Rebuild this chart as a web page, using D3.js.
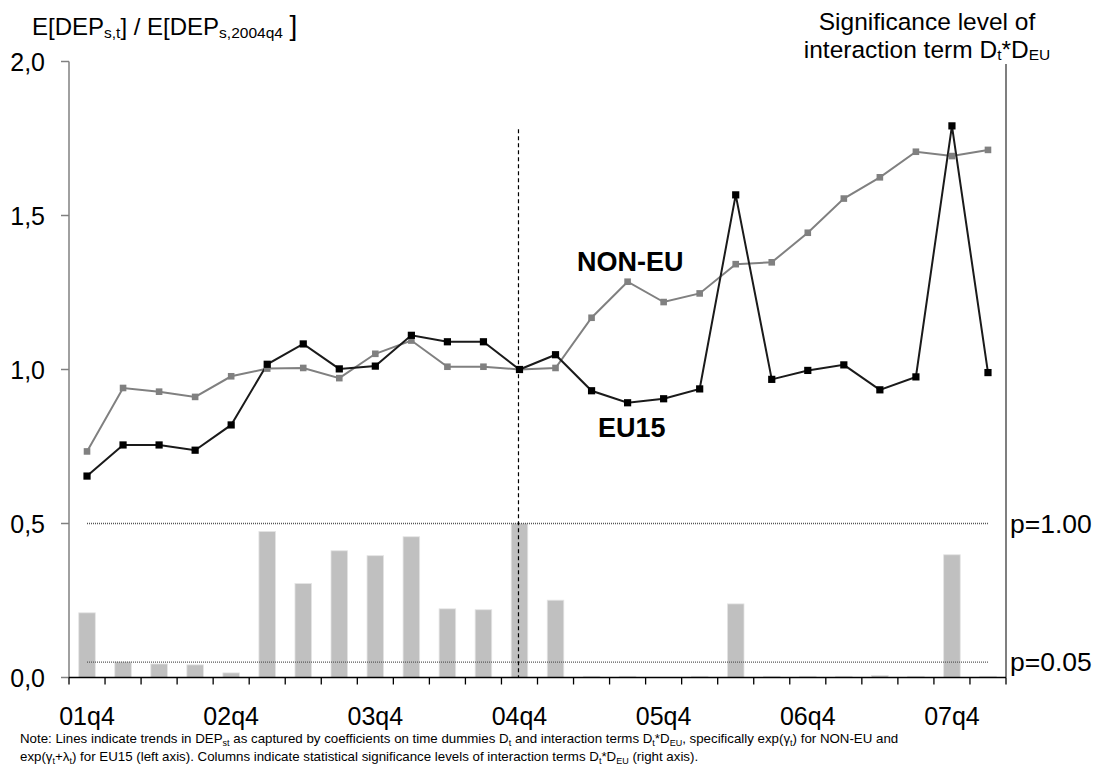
<!DOCTYPE html>
<html><head><meta charset="utf-8">
<script src="https://cdn.jsdelivr.net/npm/d3@7"></script>
<style>body{margin:0;background:#fff} svg{display:block} text{font-family:"Liberation Sans",Arial,sans-serif;fill:#000}</style>
</head><body><svg id="c" width="1096" height="782"></svg>
<script>
const categories = ["01q4","02q1","02q2","02q3","02q4","03q1","03q2","03q3","03q4","04q1","04q2","04q3","04q4","05q1","05q2","05q3","05q4","06q1","06q2","06q3","06q4","07q1","07q2","07q3","07q4","08q1"];
const tickLabels = ["01q4","02q4","03q4","04q4","05q4","06q4","07q4"];
const eu15 = [0.654,0.755,0.755,0.738,0.820,1.017,1.083,1.002,1.011,1.111,1.090,1.090,1.000,1.048,0.931,0.892,0.905,0.937,1.567,0.968,0.997,1.015,0.934,0.976,1.791,0.990];
const nonEu = [0.734,0.940,0.928,0.911,0.978,1.003,1.005,0.972,1.051,1.094,1.009,1.009,1.000,1.005,1.168,1.285,1.219,1.247,1.342,1.348,1.444,1.555,1.624,1.707,1.693,1.713];
const significance = [0.420,0.101,0.088,0.082,0.030,0.948,0.610,0.823,0.791,0.914,0.446,0.440,1.000,0.502,0.008,0.008,0,0.008,0.478,0.008,0.008,0.008,0.013,0.008,0.797,0.008];
const leftTicks = [0,0.5,1,1.5,2];
const refLines = [{label:"p=1.00", value:1.0},{label:"p=0.05", value:0.1}];
const baseQuarter = "04q4";

const svg = d3.select("#c");
const x = d3.scaleBand().domain(categories).range([69,1006]).padding(0);
const bw = x.bandwidth();
const cx = c => x(c) + bw/2;
const yL = d3.scaleLinear().domain([0,2]).range([677.5,61.5]);
const yR = d3.scaleLinear().domain([0,4]).range([677.5,61.5]);

// bars
svg.append("g").selectAll("rect").data(categories).join("rect")
  .attr("x", c => cx(c) - bw*0.23)
  .attr("width", bw*0.46)
  .attr("y", (c,i) => yR(significance[i]))
  .attr("height", (c,i) => yR(0) - yR(significance[i]))
  .attr("fill", "#c0c0c0").attr("stroke","#e4e4e4").attr("stroke-width",0.8);

// reference lines
const x0 = cx(categories[0]), x1 = cx(categories[categories.length-1]);
svg.append("g").selectAll("line").data(refLines).join("line")
  .attr("x1", x0).attr("x2", x1)
  .attr("y1", d => yR(d.value)).attr("y2", d => yR(d.value))
  .attr("stroke", "#555").attr("stroke-width", 1.4).attr("stroke-dasharray","1,1");
svg.append("g").selectAll("text").data(refLines).join("text")
  .attr("x", 1010).attr("y", d => yR(d.value) + 9)
  .attr("font-size", "26.5px").text(d => d.label);

// dashed vertical line
svg.append("line").attr("x1", cx(baseQuarter)-1).attr("x2", cx(baseQuarter)-1)
  .attr("y1", yL(1.78)).attr("y2", yL(0))
  .attr("stroke","#000").attr("stroke-width",1.2).attr("stroke-dasharray","4,3");

// lines
const line = d3.line().x((d,i) => cx(categories[i])).y(d => yL(d));
svg.append("path").datum(nonEu).attr("d", line).attr("fill","none").attr("stroke","#808080").attr("stroke-width",2);
svg.append("path").datum(eu15).attr("d", line).attr("fill","none").attr("stroke","#1a1a1a").attr("stroke-width",2);
svg.append("g").selectAll("rect").data(nonEu).join("rect")
  .attr("x",(d,i)=>cx(categories[i])-3.3).attr("y",d=>yL(d)-3.3).attr("width",6.6).attr("height",6.6).attr("fill","#808080");
svg.append("g").selectAll("rect").data(eu15).join("rect")
  .attr("x",(d,i)=>cx(categories[i])-3.6).attr("y",d=>yL(d)-3.6).attr("width",7.2).attr("height",7.2).attr("fill","#000");

// left axis
const la = svg.append("g");
la.append("line").attr("x1",69).attr("x2",69).attr("y1",yL(2)).attr("y2",yL(0)).attr("stroke","#808080").attr("stroke-width",1.5);
la.selectAll("line.t").data(leftTicks).join("line").attr("class","t")
  .attr("x1",61).attr("x2",69).attr("y1",d=>yL(d)).attr("y2",d=>yL(d)).attr("stroke","#808080").attr("stroke-width",1.5);
la.selectAll("text").data(leftTicks).join("text")
  .attr("x",45).attr("y",d=>yL(d)+9).attr("text-anchor","end").attr("font-size","25px")
  .text(d => d.toFixed(1).replace(".",","));

// right axis
svg.append("line").attr("x1",1006).attr("x2",1006).attr("y1",64).attr("y2",yL(0)).attr("stroke","#555").attr("stroke-width",1.5);

// bottom axis
const ba = svg.append("g");
ba.append("line").attr("x1",69).attr("x2",1006).attr("y1",yL(0)).attr("y2",yL(0)).attr("stroke","#000").attr("stroke-width",1.5);
ba.selectAll("line.t").data(categories.map(c=>x(c)).concat([1006])).join("line").attr("class","t")
  .attr("x1",d=>d).attr("x2",d=>d).attr("y1",yL(0)).attr("y2",yL(0)+7).attr("stroke","#000").attr("stroke-width",1.3);
ba.selectAll("text").data(tickLabels).join("text")
  .attr("x",d=>cx(d)).attr("y",725).attr("text-anchor","middle").attr("font-size","25px").text(d=>d);

// series labels
svg.append("text").attr("x",577).attr("y",271).attr("font-size","27px").attr("font-weight","bold").text("NON-EU");
svg.append("text").attr("x",598).attr("y",437).attr("font-size","27px").attr("font-weight","bold").text("EU15");

// titles
function rich(sel, parts){
  parts.forEach(p => {
    sel.append("tspan").attr("font-size", p.fs).attr("dy", p.dy || 0).text(p.t);
  });
}
const lt = svg.append("text").attr("x",32).attr("y",35);
rich(lt, [{t:"E[DEP",fs:"24px"},{t:"s,t",fs:"15.5px",dy:3},{t:"] / E[DEP",fs:"24px",dy:-3},{t:"s,2004q4",fs:"15.5px",dy:3},{t:" ",fs:"24px",dy:-3},{t:"]",fs:"28px"}]);
svg.append("text").attr("x",927).attr("y",30).attr("text-anchor","middle").attr("font-size","24.5px").text("Significance level of");
const rt = svg.append("text").attr("x",927).attr("y",58).attr("text-anchor","middle");
rich(rt, [{t:"interaction term D",fs:"24.5px"},{t:"t",fs:"15.5px",dy:2},{t:"*D",fs:"24.5px",dy:-2},{t:"EU",fs:"15.5px",dy:2}]);

// note
const nf = "13.3px";
const n1 = svg.append("text").attr("x",20).attr("y",743).attr("font-size",nf);
const sub = (t)=>({t,fs:"9px",dy:2.5}), nor=(t)=>({t,fs:nf,dy:-2.5});
rich(n1, [{t:"Note: Lines indicate trends in DEP",fs:nf},sub("st"),nor(" as captured by coefficients on time dummies D"),sub("t"),nor(" and interaction terms D"),sub("t"),nor("*D"),sub("EU"),nor(", specifically exp(γ"),sub("t"),nor(") for NON-EU and")]);
const n2 = svg.append("text").attr("x",20).attr("y",761).attr("font-size",nf);
rich(n2, [{t:"exp(γ",fs:nf},sub("t"),nor("+λ"),sub("t"),nor(") for EU15 (left axis). Columns indicate statistical significance levels of interaction terms D"),sub("t"),nor("*D"),sub("EU"),nor(" (right axis).")]);
</script></body></html>
